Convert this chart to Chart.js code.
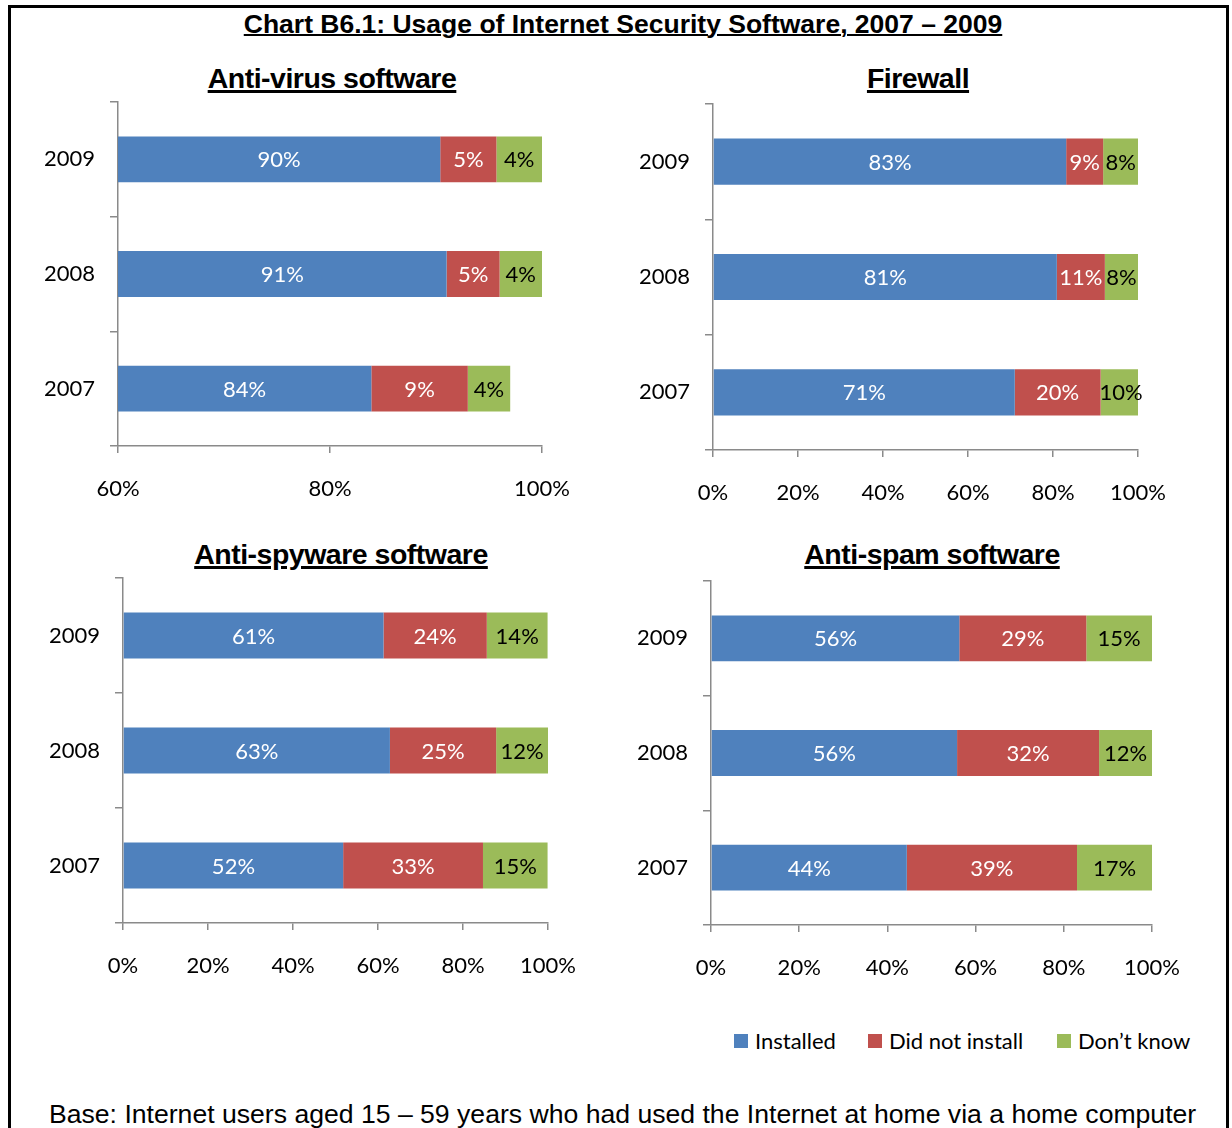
<!DOCTYPE html>
<html>
<head>
<meta charset="utf-8">
<script src="https://cdn.jsdelivr.net/npm/chart.js@4.4.0/dist/chart.umd.min.js"></script>
<style>
  body { margin: 0; background: #fff; width: 1232px; height: 1128px; overflow: hidden; position: relative; }
  #frame { position: absolute; left: 8px; top: 5px; width: 1215px; height: 1200px; border: 3px solid #000; }
  .ttl { position: absolute; font-family: "Liberation Sans", Arial, sans-serif; font-weight: bold;
         text-decoration: underline; white-space: nowrap; transform: translateX(-50%); color: #000; }
  #main { font-size: 26.5px; line-height: 30px; top: 9px; left: 623px; text-decoration-thickness: 2px; }
  .sub { font-size: 28.5px; letter-spacing: -0.5px; text-decoration-thickness: 3px; }
  canvas { position: absolute; }
  .leg { position: absolute; top: 1028px; font-family: Lato, sans-serif; font-size: 22px; line-height: 26px; color: #000; white-space: nowrap; }
  .leg span { display: inline-block; width: 14px; height: 14px; margin-right: 7px; vertical-align: 1px; }
  #base { position: absolute; left: 49px; top: 1099px; font-family: "Liberation Sans", Arial, sans-serif; font-size: 26.6px; line-height: 30px; white-space: nowrap; }
</style>
</head>
<body>
<div id="frame"></div>
<div id="main" class="ttl">Chart B6.1: Usage of Internet Security Software, 2007 – 2009</div>
<div class="ttl sub" style="left:332px; top:62px;">Anti-virus software</div>
<div class="ttl sub" style="left:918px; top:62px;">Firewall</div>
<div class="ttl sub" style="left:341px; top:538px;">Anti-spyware software</div>
<div class="ttl sub" style="left:932px; top:538px;">Anti-spam software</div>

<canvas id="chartAntiVirus"></canvas>
<canvas id="chartFirewall"></canvas>
<canvas id="chartAntiSpyware"></canvas>
<canvas id="chartAntiSpam"></canvas>

<div class="leg" style="left:734px;"><span style="background:#4F81BD"></span>Installed</div>
<div class="leg" style="left:868px;"><span style="background:#C0504D"></span>Did not install</div>
<div class="leg" style="left:1057px;"><span style="background:#9BBB59"></span>Don’t know</div>

<div id="base">Base: Internet users aged 15 – 59 years who had used the Internet at home via a home computer</div>

<script>
// categories, top to bottom
const years = ['2009', '2008', '2007'];
const seriesNames = ['Installed', 'Did not install', 'Don’t know'];
const colores = ['#4F81BD', '#C0504D', '#9BBB59'];
const coloresTexto = ['#ffffff', '#ffffff', '#000000'];

// percentages (labels are these rounded)
const antiVirusInstalled = [90.4, 91.0, 83.9];
const antiVirusNotInstalled = [5.3, 5.0, 9.1];
const antiVirusDontKnow = [4.3, 4.0, 4.0];

const firewallInstalled = [83.1, 80.9, 71.0];
const firewallNotInstalled = [8.7, 11.3, 20.2];
const firewallDontKnow = [8.3, 7.8, 9.6];

const antiSpywareInstalled = [61.3, 62.8, 51.8];
const antiSpywareNotInstalled = [24.3, 25.0, 32.9];
const antiSpywareDontKnow = [14.3, 12.2, 15.2];

const antiSpamInstalled = [56.3, 55.8, 44.4];
const antiSpamNotInstalled = [28.8, 32.2, 38.6];
const antiSpamDontKnow = [14.9, 12.0, 17.0];

const xMinAntiVirus = 60;
const xMinOthers = 0;

const gris = '#8a8a8a';
const fuente = { family: 'Lato', size: 22 };

// etiquetas dentro de cada segmento
const etiquetas = {
    id: 'etiquetas',
    afterDatasetsDraw(chart) {
        const ctx = chart.ctx;
        const area = chart.chartArea;
        ctx.save();
        ctx.font = '22px Lato';
        ctx.textAlign = 'center';
        ctx.textBaseline = 'middle';
        chart.data.datasets.forEach((ds, i) => {
            const meta = chart.getDatasetMeta(i);
            meta.data.forEach((bar, j) => {
                const p = bar.getProps(['x', 'y', 'base'], true);
                const izq = Math.max(Math.min(p.x, p.base), area.left);
                const der = Math.max(p.x, p.base);
                ctx.fillStyle = coloresTexto[i];
                ctx.fillText(Math.round(ds.data[j]) + '%', (izq + der) / 2, p.y + 1);
            });
        });
        ctx.restore();
    }
};

function crearGrafica(id, caja, xMin, installed, notInstalled, dontKnow) {
    const canvas = document.getElementById(id);
    canvas.width = caja.w;
    canvas.height = caja.h;
    canvas.style.left = caja.left + 'px';
    canvas.style.top = caja.top + 'px';

    const series = [installed, notInstalled, dontKnow];
    const datasets = series.map((d, i) => ({
        label: seriesNames[i],
        data: d,
        backgroundColor: colores[i],
        categoryPercentage: 1,
        barPercentage: 0.4,
        clip: 0
    }));

    return new Chart(canvas, {
        type: 'bar',
        data: { labels: years, datasets: datasets },
        options: {
            indexAxis: 'y',
            responsive: false,
            animation: false,
            layout: { padding: { top: caja.padTop, right: caja.padRight, left: 0, bottom: 0 } },
            plugins: { legend: { display: false }, tooltip: { enabled: false } },
            scales: {
                x: {
                    stacked: true,
                    min: xMin,
                    max: 100,
                    ticks: { stepSize: 20, callback: v => v + '%', font: fuente, color: '#000', padding: 23, maxRotation: 0 },
                    grid: { drawOnChartArea: false, tickLength: 7, color: gris, lineWidth: 1.5 },
                    border: { color: gris, width: 1.5 },
                    afterFit(s) { s.height = caja.xAxisH; s.paddingLeft = 0; s.paddingRight = 0; }
                },
                y: {
                    stacked: true,
                    ticks: { font: fuente, color: '#000', padding: 15 },
                    grid: { drawOnChartArea: false, tickLength: 8, color: gris, lineWidth: 1.5, offset: true },
                    border: { color: gris, width: 1.5 },
                    afterFit(s) { s.width = caja.yAxisW; s.paddingTop = 0; s.paddingBottom = 0; }
                }
            }
        },
        plugins: [etiquetas]
    });
}

crearGrafica('chartAntiVirus', { left: 18, top: 95, w: 582, h: 420, yAxisW: 100, xAxisH: 69, padTop: 7, padRight: 58 },
    xMinAntiVirus, antiVirusInstalled, antiVirusNotInstalled, antiVirusDontKnow);
crearGrafica('chartFirewall', { left: 613, top: 97, w: 602, h: 422, yAxisW: 100, xAxisH: 69, padTop: 7, padRight: 77 },
    xMinOthers, firewallInstalled, firewallNotInstalled, firewallDontKnow);
crearGrafica('chartAntiSpyware', { left: 23, top: 571, w: 582, h: 421, yAxisW: 100, xAxisH: 69, padTop: 7, padRight: 57 },
    xMinOthers, antiSpywareInstalled, antiSpywareNotInstalled, antiSpywareDontKnow);
crearGrafica('chartAntiSpam', { left: 611, top: 574, w: 604, h: 420, yAxisW: 100, xAxisH: 69, padTop: 7, padRight: 63 },
    xMinOthers, antiSpamInstalled, antiSpamNotInstalled, antiSpamDontKnow);
</script>
</body>
</html>
